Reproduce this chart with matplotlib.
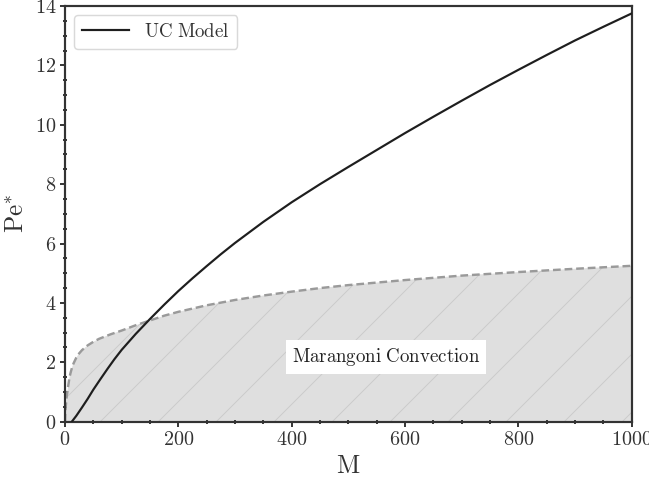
import matplotlib
matplotlib.use("Agg")
import matplotlib.pyplot as plt
from matplotlib.ticker import MultipleLocator, FuncFormatter

# Data
uc_M = [12, 20, 30, 40, 50, 62, 75, 87, 100, 125, 150, 175, 200, 225, 250, 275, 300,
        350, 400, 450, 500, 550, 600, 650, 700, 750, 800, 850, 900, 950, 1000]
uc_Pe = [0.0, 0.2, 0.48, 0.77, 1.08, 1.42, 1.78, 2.1, 2.42, 2.96, 3.46, 3.94, 4.40, 4.83,
         5.24, 5.64, 6.02, 6.73, 7.39, 8.0, 8.58, 9.15, 9.72, 10.27, 10.81, 11.34, 11.85,
         12.35, 12.84, 13.3, 13.75]

onset_M = [0, 0.5, 1, 2, 3, 4.5, 6, 8, 10, 12.5, 15, 20, 25, 30, 40, 50, 60, 80, 100,
           125, 150, 175, 200, 250, 300, 350, 400, 450, 500, 600, 700, 800, 900, 1000]
onset_Pe = [0.0, 0.3, 0.45, 0.65, 0.84, 1.05, 1.25, 1.5, 1.66, 1.83, 1.96, 2.16, 2.3, 2.41,
            2.57, 2.69, 2.79, 2.94, 3.07, 3.25, 3.41, 3.57, 3.70, 3.92, 4.1, 4.25, 4.38,
            4.5, 4.6, 4.77, 4.92, 5.04, 5.15, 5.25]

legend_label = r"$\mathrm{UC\ Model}$"
region_label = r"$\mathrm{Marangoni\ Convection}$"
x_label = r"$\mathrm{M}$"
y_label = r"$\mathrm{Pe}^{*}$"

DPI = 174
plt.rcParams["mathtext.fontset"] = "cm"
plt.rcParams["font.family"] = "serif"
plt.rcParams["font.serif"] = ["cmr10", "DejaVu Serif"]
plt.rcParams["axes.unicode_minus"] = False
plt.rcParams["axes.formatter.use_mathtext"] = True
plt.rcParams["hatch.linewidth"] = 0.4

fig = plt.figure(figsize=(649 / DPI, 484 / DPI), dpi=DPI)
ax = fig.add_axes([65 / 649, 1 - 421.7 / 484, (631.7 - 65) / 649, (421.7 - 6) / 484])

ax.fill_between(onset_M, 0, onset_Pe, facecolor="#dfdfdf", edgecolor="#cacaca",
                hatch="/", linewidth=0, zorder=1)
ax.plot(onset_M, onset_Pe, color="#9a9a9a", lw=1.0, ls=(0, (3.2, 1.6)), zorder=2)
ax.plot(uc_M, uc_Pe, color="#1e1e1e", lw=0.9, label=legend_label, zorder=3)

ax.text(400, 2.0, region_label, fontsize=7.8, color="#222222",
        bbox=dict(facecolor="white", edgecolor="none", pad=2.4), zorder=4)

ax.set_xlim(0, 1000)
ax.set_ylim(0, 14)
ax.xaxis.set_major_locator(MultipleLocator(200))
ax.xaxis.set_minor_locator(MultipleLocator(50))
ax.yaxis.set_major_locator(MultipleLocator(2))
ax.yaxis.set_minor_locator(MultipleLocator(0.5))
fmt = FuncFormatter(lambda v, p: r"$%d$" % int(round(v)))
ax.xaxis.set_major_formatter(fmt)
ax.yaxis.set_major_formatter(fmt)

for s in ax.spines.values():
    s.set_color("#333333")
    s.set_linewidth(0.9)
ax.tick_params(which="major", direction="out", length=2.2, width=0.8, color="#333333",
               labelsize=8.3, labelcolor="#333333", pad=1.5)
ax.tick_params(which="minor", direction="inout", length=1.6, width=0.8, color="#333333")

ax.set_xlabel(x_label, fontsize=10.5, color="#333333", labelpad=2.2)
ax.set_ylabel(y_label, fontsize=10.5, color="#333333", labelpad=2.5)

leg = ax.legend(loc="upper left", fontsize=7.8, frameon=True, fancybox=True,
                borderaxespad=0.5, handlelength=2.5)
leg.get_frame().set_edgecolor("#d0d0d0")
leg.get_frame().set_linewidth(0.6)
for t in leg.get_texts():
    t.set_color("#333333")

fig.savefig("out.png", dpi=DPI)
